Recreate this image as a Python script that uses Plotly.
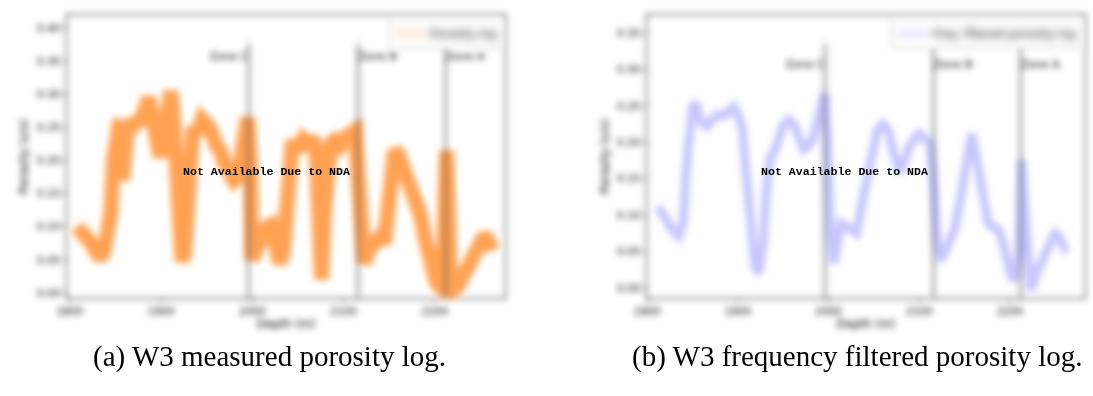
import plotly.graph_objects as go

# ---------------- data ----------------
x_ticks = [1800, 1900, 2000, 2100, 2200]
y_ticks_a = [0.00, 0.05, 0.10, 0.15, 0.20, 0.25, 0.30, 0.35, 0.40]
y_ticks_b = [0.00, 0.05, 0.10, 0.15, 0.20, 0.25, 0.30, 0.35]

zone_depths = [1996, 2116, 2212]
zone_names = ["Zone C", "Zone B", "Zone A"]

depth_meas = [1808, 1812, 1818, 1824, 1830, 1834, 1838, 1842, 1845, 1848,
              1851, 1855, 1858, 1861, 1864, 1868, 1872, 1876, 1880, 1884,
              1887, 1890, 1893, 1896, 1899, 1902, 1905, 1908, 1911, 1914,
              1917, 1920, 1923, 1926, 1929, 1932, 1935, 1940, 1945, 1950,
              1955, 1960, 1965, 1970, 1975, 1980, 1984, 1988, 1992, 1995,
              1998, 2000, 2004, 2010, 2016, 2021, 2026, 2030, 2034, 2037,
              2040, 2044, 2050, 2056, 2062, 2066, 2070, 2073, 2076, 2079,
              2082, 2086, 2090, 2096, 2102, 2108, 2113, 2116, 2119, 2123,
              2128, 2134, 2140, 2145, 2149, 2152, 2156, 2160, 2166, 2172,
              2178, 2184, 2190, 2196, 2202, 2206, 2209, 2211, 2213, 2215,
              2217, 2220, 2225, 2232, 2240, 2248, 2255, 2259, 2264]
por_meas = [0.100, 0.095, 0.088, 0.075, 0.060, 0.052, 0.065, 0.085, 0.120, 0.200,
            0.250, 0.262, 0.170, 0.250, 0.258, 0.245, 0.262, 0.255, 0.270, 0.285,
            0.295, 0.270, 0.240, 0.215, 0.205, 0.230, 0.265, 0.300, 0.305, 0.260,
            0.170, 0.070, 0.048, 0.060, 0.120, 0.210, 0.250, 0.240, 0.262, 0.255,
            0.245, 0.225, 0.215, 0.195, 0.180, 0.170, 0.175, 0.205, 0.245, 0.265,
            0.200, 0.050, 0.065, 0.085, 0.100, 0.103, 0.070, 0.045, 0.060, 0.120,
            0.210, 0.230, 0.215, 0.232, 0.225, 0.235, 0.215, 0.120, 0.020, 0.120,
            0.210, 0.225, 0.230, 0.222, 0.235, 0.240, 0.245, 0.180, 0.055, 0.045,
            0.065, 0.080, 0.085, 0.075, 0.120, 0.190, 0.215, 0.210, 0.190, 0.170,
            0.150, 0.120, 0.080, 0.040, 0.015, 0.010, 0.020, 0.120, 0.215, 0.130,
            0.020, 0.005, 0.010, 0.030, 0.055, 0.075, 0.088, 0.078, 0.065]

depth_filt = [1812, 1820, 1828, 1835, 1840, 1843, 1847, 1850, 1854, 1858,
              1862, 1866, 1872, 1878, 1884, 1890, 1896, 1901, 1905, 1909,
              1914, 1919, 1923, 1928, 1932, 1936, 1940, 1945, 1950, 1956,
              1962, 1968, 1973, 1978, 1983, 1988, 1993, 1996, 1999, 2002,
              2006, 2010, 2014, 2020, 2026, 2031, 2036, 2042, 2048, 2054,
              2060, 2066, 2072, 2079, 2084, 2089, 2095, 2100, 2106, 2112,
              2116, 2120, 2124, 2130, 2135, 2139, 2144, 2150, 2155, 2158,
              2163, 2170, 2176, 2181, 2188, 2193, 2197, 2202, 2206, 2210,
              2213, 2216, 2219, 2223, 2228, 2235, 2242, 2250, 2256, 2262]
por_filt = [0.112, 0.095, 0.080, 0.071, 0.090, 0.160, 0.230, 0.249, 0.254, 0.232,
            0.225, 0.222, 0.232, 0.238, 0.236, 0.242, 0.249, 0.235, 0.220, 0.160,
            0.080, 0.030, 0.020, 0.060, 0.140, 0.180, 0.186, 0.205, 0.222, 0.231,
            0.225, 0.205, 0.190, 0.195, 0.205, 0.230, 0.262, 0.267, 0.200, 0.080,
            0.034, 0.060, 0.089, 0.084, 0.080, 0.075, 0.110, 0.148, 0.180, 0.217,
            0.225, 0.217, 0.185, 0.158, 0.175, 0.194, 0.205, 0.212, 0.205, 0.199,
            0.150, 0.060, 0.038, 0.055, 0.075, 0.080, 0.112, 0.160, 0.200, 0.212,
            0.180, 0.121, 0.090, 0.084, 0.080, 0.060, 0.038, 0.015, 0.011, 0.050,
            0.176, 0.120, 0.030, -0.003, 0.015, 0.038, 0.055, 0.075, 0.068, 0.048]

legend_a = "Porosity log"
legend_b = "Freq. filtered porosity log"
nda_text = "Not Available Due to NDA"
caption_a = "(a) W3 measured porosity log."
caption_b = "(b) W3 frequency filtered porosity log."
x_title = "Depth (m)"
y_title = "Porosity (v/v)"

ORANGE = "#ff7f0e"
BLUE = "rgb(120,120,255)"
TICKFONT = dict(family="DejaVu Sans", size=10.5, color="black")
TITLEFONT = dict(family="DejaVu Sans", size=11.5, color="black")

fig = go.Figure()

# measured log (left)
fig.add_trace(go.Scatter(x=depth_meas, y=por_meas, mode="lines",
                         line=dict(color=ORANGE, width=15), opacity=0.72,
                         showlegend=False, xaxis="x", yaxis="y"))
fig.add_trace(go.Scatter(x=[None], y=[None], mode="lines", name=legend_a,
                         line=dict(color="rgba(255,127,14,0.3)", width=5),
                         legend="legend", xaxis="x", yaxis="y"))
# filtered log (right)
fig.add_trace(go.Scatter(x=depth_filt, y=por_filt, mode="lines",
                         line=dict(color=BLUE, width=9), opacity=0.42,
                         showlegend=False, xaxis="x2", yaxis="y2"))
fig.add_trace(go.Scatter(x=[None], y=[None], mode="lines", name=legend_b,
                         line=dict(color="rgba(110,110,255,0.3)", width=5),
                         legend="legend2", xaxis="x2", yaxis="y2"))

# zone labels (text traces so they sit in the plot layer)
positions = ["middle left", "middle right", "middle right"]
for xa, ya, yv in (("x", "y", 0.356), ("x2", "y2", 0.306)):
    fig.add_trace(go.Scatter(x=zone_depths, y=[yv] * len(zone_depths), mode="text",
                             text=zone_names, textposition=positions,
                             textfont=dict(family="DejaVu Sans", size=11, color="black"),
                             showlegend=False, xaxis=xa, yaxis=ya, hoverinfo="skip"))

shapes = []
for xr, yr in (("x", "y domain"), ("x2", "y2 domain")):
    for d in zone_depths:
        shapes.append(dict(type="line", xref=xr, yref=yr, x0=d, x1=d, y0=0, y1=0.9,
                           line=dict(color="#444444", width=1.6)))

axis_common = dict(showline=True, mirror=True, linecolor="black", linewidth=1,
                   ticks="outside", ticklen=3.5, tickwidth=1, tickcolor="black",
                   showgrid=False, zeroline=False, tickfont=TICKFONT, automargin=False)

ydom = [0.2475, 0.9621]
fig.update_layout(
    width=1093, height=396,
    margin=dict(l=0, r=0, t=0, b=0, autoexpand=False),
    paper_bgcolor="white", plot_bgcolor="white",
    xaxis=dict(domain=[0.0613, 0.4620], range=[1797, 2277], tickvals=x_ticks,
               anchor="y", title=dict(text=x_title, standoff=3, font=TITLEFONT),
               **axis_common),
    yaxis=dict(domain=ydom, range=[-0.0075, 0.4196], tickvals=y_ticks_a,
               tickformat=".2f", anchor="x",
               title=dict(text=y_title, standoff=5, font=TITLEFONT),
               **axis_common),
    xaxis2=dict(domain=[0.5920, 0.9927], range=[1800, 2283], tickvals=x_ticks,
                anchor="y2", title=dict(text=x_title, standoff=3, font=TITLEFONT),
                **axis_common),
    yaxis2=dict(domain=ydom, range=[-0.0137, 0.3747], tickvals=y_ticks_b,
                tickformat=".2f", anchor="x2",
                title=dict(text=y_title, standoff=5, font=TITLEFONT),
                **axis_common),
    legend=dict(x=0.460, y=0.955, xanchor="right", yanchor="top",
                bgcolor="white", bordercolor="#bbbbbb", borderwidth=1,
                font=dict(family="DejaVu Sans", size=11.5, color="black")),
    legend2=dict(x=0.991, y=0.955, xanchor="right", yanchor="top",
                 bgcolor="white", bordercolor="#bbbbbb", borderwidth=1,
                 font=dict(family="DejaVu Sans", size=11.5, color="black")),
    shapes=shapes,
    annotations=[
        dict(text=nda_text, xref="paper", yref="paper", x=0.2434, y=0.568,
             xanchor="center", yanchor="middle", showarrow=False,
             font=dict(family="Liberation Mono", size=11.6, color="black", weight="bold")),
        dict(text=nda_text, xref="paper", yref="paper", x=0.7722, y=0.568,
             xanchor="center", yanchor="middle", showarrow=False,
             font=dict(family="Liberation Mono", size=11.6, color="black", weight="bold")),
        dict(text=caption_a, xref="paper", yref="paper", x=0.247, y=0.101,
             xanchor="center", yanchor="middle", showarrow=False,
             font=dict(family="Liberation Serif", size=29, color="black")),
        dict(text=caption_b, xref="paper", yref="paper", x=0.784, y=0.101,
             xanchor="center", yanchor="middle", showarrow=False,
             font=dict(family="Liberation Serif", size=29, color="black")),
    ],
)

post = """
document.documentElement.style.margin='0';
document.body.style.margin='0';
document.body.style.padding='0';
var ns='http://www.w3.org/2000/svg';
var s=document.createElementNS(ns,'svg');
s.setAttribute('width','0');s.setAttribute('height','0');
s.style.position='absolute';s.style.left='0';s.style.top='0';
var f=document.createElementNS(ns,'filter');
f.setAttribute('id','ndablur');f.setAttribute('filterUnits','userSpaceOnUse');
f.setAttribute('x','-3000');f.setAttribute('y','-3000');
f.setAttribute('width','8000');f.setAttribute('height','8000');
var g=document.createElementNS(ns,'feGaussianBlur');g.setAttribute('stdDeviation','3.2');
f.appendChild(g);s.appendChild(f);document.body.appendChild(s);
var st=document.createElement('style');
st.textContent='html,body{margin:0;padding:0;overflow:hidden;}.cartesianlayer,.layer-above,.legend,.legend2,[class^="legend"],.g-xtitle,.g-x2title,.g-ytitle,.g-y2title{filter:url(#ndablur);}';
document.head.appendChild(st);
"""

fig.write_html("out.html", post_script=post, config={"displayModeBar": False})
